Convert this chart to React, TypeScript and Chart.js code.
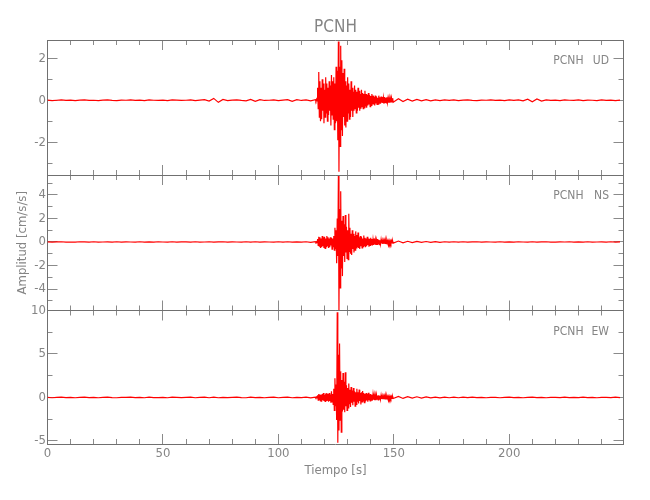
import { useEffect, useRef } from "react";
import { Chart, registerables } from "chart.js";

Chart.register(...registerables);

// ---------------- data ----------------
const STATION = "PCNH";
const X_TITLE = "Tiempo [s]";
const Y_TITLE = "Amplitud [cm/s/s]";
const X_MIN = 0;
const X_MAX = 249.5;

// sampling of the three stored pieces of each trace (seconds)
const PRE_START = 0;
const PRE_STEP = 2;
const EVENT_START = 116;
const EVENT_STEP = 0.25;
const CODA_START = 152;
const CODA_STEP = 2;

const udPre = [
  0.01, -0.02, 0.0, 0.02, -0.01, 0.01, -0.02, 0.01, 0.02, -0.01,
  0.0, -0.02, 0.01, 0.02, -0.01, -0.02, 0.01, 0.0, 0.02, -0.01,
  0.01, -0.02, 0.02, 0.0, -0.01, 0.01, -0.02, 0.02, 0.01, -0.01,
  0.0, 0.02, -0.02, 0.01, 0.03, -0.04, 0.09, -0.1, 0.04, -0.02,
  0.01, 0.02, -0.01, -0.03, 0.04, -0.05, 0.03, -0.01, 0.0, 0.02,
  -0.02, 0.01, 0.03, -0.05, 0.03, -0.01, 0.02, -0.03,
];
const udEvent = [
  0.03, -0.04, 0.05, -0.03, 0.6, -0.4, 1.35, -0.8,
  0.9, -1.0, 0.6, -0.9, 1.0, -0.5, 0.8, -1.1,
  0.5, -0.8, 1.1, -0.6, 0.8, -1.0, 0.6, -0.7,
  0.9, -0.5, 0.7, -1.2, 1.2, -0.7, 0.9, -0.9,
  1.1, -1.4, 0.8, -1.1, 1.6, -1.0, 1.4, -1.9,
  2.8, -3.4, 1.6, -2.2, 2.6, -1.4, 1.9, -1.7,
  1.3, -0.8, 1.5, -1.2, 0.9, -1.3, 0.7, -1.0,
  1.1, -0.6, 0.8, -0.9, 0.5, -0.8, 0.9, -0.5,
  0.6, -0.8, 0.4, -0.5, 0.7, -0.4, 0.5, -0.6,
  0.4, -0.5, 0.6, -0.35, 0.45, -0.5, 0.3, -0.4,
  0.5, -0.3, 0.35, -0.4, 0.3, -0.35, 0.45, -0.3,
  0.3, -0.35, 0.25, -0.25, 0.35, -0.2, 0.25, -0.3,
  0.2, -0.25, 0.3, -0.2, 0.22, -0.2, 0.15, -0.25,
  0.22, -0.15, 0.18, -0.2, 0.12, -0.18, 0.22, -0.14,
  0.14, -0.16, 0.18, -0.12, 0.15, -0.13, 0.12, -0.16,
  0.15, -0.1, 0.12, -0.13, 0.14, -0.11, 0.1, -0.12,
  0.11, -0.12, 0.09, -0.1, 0.11, -0.08, 0.1, -0.09,
];
const udCoda = [
  0.07, -0.06, 0.05, -0.04, 0.04, -0.03, 0.03, -0.03, 0.02, -0.02,
  0.02, -0.01, 0.02, -0.02, 0.01, 0.02, -0.01, -0.02, 0.01, 0.0,
  0.02, -0.01, 0.01, -0.02, 0.02, -0.01, 0.02, -0.03, 0.05, -0.07,
  0.06, -0.04, 0.02, -0.01, 0.01, -0.02, 0.02, 0.0, -0.01, 0.02,
  -0.02, 0.01, 0.0, -0.02, 0.02, -0.01, 0.01, -0.02, 0.01,
];

const nsPre = [
  0.01, -0.02, 0.01, 0.02, -0.01, 0.0, -0.02, 0.02, 0.01, -0.01,
  0.02, -0.02, 0.0, 0.01, -0.02, 0.02, -0.01, 0.01, 0.0, -0.02,
  0.02, -0.01, 0.01, -0.02, 0.02, 0.0, -0.01, 0.02, -0.02, 0.01,
  0.01, -0.02, 0.02, -0.01, 0.0, 0.02, -0.02, 0.01, 0.02, -0.02,
  0.01, 0.0, -0.02, 0.02, -0.01, 0.02, -0.02, 0.01, 0.0, -0.02,
  0.02, -0.01, 0.02, -0.02, 0.01, -0.02, 0.02, -0.03,
];
const nsEvent = [
  0.03, -0.04, 0.03, -0.05, 0.25, -0.3, 0.45, -0.35,
  0.4, -0.5, 0.3, -0.45, 0.5, -0.35, 0.4, -0.5,
  0.45, -0.55, 0.3, -0.4, 0.5, -0.3, 0.4, -0.5,
  0.3, -0.45, 0.4, -0.3, 0.35, -0.6, 0.3, -0.4,
  0.5, -0.7, 1.2, -0.6, 1.0, -1.8, 2.0, -1.2,
  5.6, -5.8, 2.8, -3.9, 4.3, -2.2, 1.8, -2.9,
  2.2, -1.2, 1.5, -1.7, 2.3, -0.9, 1.3, -1.4,
  1.0, -1.5, 2.4, -0.8, 1.2, -1.0, 0.7, -1.1,
  1.0, -0.6, 0.7, -0.9, 0.5, -0.7, 0.9, -0.5,
  0.6, -0.45, 0.8, -0.5, 0.4, -0.6, 0.5, -0.35,
  0.45, -0.5, 0.3, -0.4, 0.55, -0.3, 0.35, -0.45,
  0.3, -0.35, 0.45, -0.25, 0.3, -0.4, 0.25, -0.3,
  0.35, -0.2, 0.25, -0.3, 0.2, -0.25, 0.3, -0.2,
  0.2, -0.25, 0.15, -0.2, 0.25, -0.15, 0.18, -0.22,
  0.15, -0.18, 0.2, -0.12, 0.14, -0.17, 0.12, -0.15,
  0.14, -0.12, 0.1, -0.14, 0.13, -0.1, 0.12, -0.11,
  0.1, -0.12, 0.09, -0.1, 0.11, -0.08, 0.09, -0.1,
];
const nsCoda = [
  0.08, -0.07, 0.06, -0.05, 0.05, -0.04, 0.04, -0.03, 0.03, -0.03,
  0.02, -0.02, 0.02, -0.01, 0.02, -0.02, 0.01, 0.02, -0.02, 0.01,
  0.0, -0.02, 0.02, -0.01, 0.01, -0.02, 0.02, 0.0, -0.01, 0.02,
  -0.02, 0.01, 0.02, -0.01, -0.02, 0.01, 0.0, 0.02, -0.02, 0.01,
  -0.01, 0.02, -0.02, 0.0, 0.01, -0.02, 0.02, -0.01, 0.01,
];

const ewPre = [
  0.02, -0.03, 0.01, 0.03, -0.02, 0.0, -0.03, 0.02, 0.03, -0.02,
  0.01, -0.03, 0.02, 0.03, -0.01, -0.03, 0.02, 0.0, 0.03, -0.02,
  0.02, -0.03, 0.03, -0.01, -0.02, 0.02, -0.03, 0.03, 0.01, -0.02,
  0.0, 0.03, -0.03, 0.02, 0.03, -0.03, 0.04, -0.03, 0.02, -0.02,
  0.01, 0.03, -0.02, -0.03, 0.03, -0.02, 0.02, -0.03, 0.0, 0.03,
  -0.03, 0.02, 0.03, -0.03, 0.02, -0.01, 0.03, -0.04,
];
const ewEvent = [
  0.05, -0.04, 0.06, -0.05, 0.25, -0.3, 0.4, -0.25,
  0.35, -0.45, 0.3, -0.5, 0.4, -0.3, 0.5, -0.4,
  0.3, -0.45, 0.45, -0.35, 0.5, -0.3, 0.4, -0.5,
  0.5, -0.4, 0.35, -0.6, 0.7, -0.5, 0.4, -0.8,
  1.0, -1.5, 2.2, -1.0, 1.5, -2.6, 9.8, -5.2,
  4.9, -3.8, 6.2, -2.6, 3.0, -4.0, 2.0, -1.6,
  2.8, -1.4, 1.8, -1.7, 2.9, -1.0, 1.4, -1.5,
  1.1, -1.2, 1.6, -0.7, 0.9, -1.1, 1.2, -0.6,
  0.8, -0.9, 1.1, -0.5, 0.7, -1.0, 0.6, -0.8,
  1.0, -0.5, 0.6, -0.7, 0.9, -0.4, 0.5, -0.8,
  0.6, -0.5, 0.75, -0.4, 0.5, -0.6, 0.4, -0.45,
  0.5, -0.35, 0.4, -0.5, 0.55, -0.3, 0.35, -0.4,
  0.4, -0.3, 0.3, -0.35, 0.35, -0.25, 0.3, -0.3,
  0.25, -0.3, 0.3, -0.2, 0.22, -0.28, 0.25, -0.2,
  0.2, -0.22, 0.25, -0.16, 0.18, -0.2, 0.15, -0.18,
  0.18, -0.15, 0.14, -0.17, 0.16, -0.12, 0.15, -0.14,
  0.13, -0.14, 0.12, -0.11, 0.13, -0.1, 0.11, -0.12,
];
const ewCoda = [
  0.13, -0.11, 0.1, -0.08, 0.08, -0.07, 0.06, -0.05, 0.05, -0.04,
  0.04, -0.03, 0.03, -0.03, 0.03, -0.02, 0.03, -0.02, 0.02, -0.03,
  0.02, 0.0, -0.03, 0.02, 0.03, -0.02, 0.01, -0.03, 0.02, 0.03,
  -0.02, 0.01, -0.03, 0.02, 0.0, -0.02, 0.03, -0.02, 0.02, -0.01,
  0.03, -0.02, 0.01, -0.03, 0.02, 0.0, -0.02, 0.03, -0.02,
];

// ---------------- styles ----------------
const FONT = "'DejaVu Sans Condensed', 'Liberation Sans', sans-serif";
const TEXT = "#858585";
const FRAME = "#707070";
const TICK = "#8a8a8a";
const TRACE = "#ff0000";

const LEFT_W = 47.5;
const RIGHT_W = 26.5;

type Panel = {
  comp: string;
  pre: number[];
  ev: number[];
  coda: number[];
  min: number;
  max: number;
  major: number;
  minor: number;
  padTop: number;
  topH: number;
  padBottom: number;
  bottomH: number;
  showTitle: boolean;
  showYTitle: boolean;
  showXLabels: boolean;
};

const PANELS: Panel[] = [
  { comp: "UD", pre: udPre, ev: udEvent, coda: udCoda, min: -3.56, max: 2.87, major: 2, minor: 1,
    padTop: 0, topH: 40, padBottom: 315, bottomH: 10, showTitle: true, showYTitle: false, showXLabels: false },
  { comp: "NS", pre: nsPre, ev: nsEvent, coda: nsCoda, min: -5.82, max: 5.69, major: 2, minor: 1,
    padTop: 165, topH: 10, padBottom: 179.5, bottomH: 10, showTitle: false, showYTitle: true, showXLabels: false },
  { comp: "EW", pre: ewPre, ev: ewEvent, coda: ewCoda, min: -5.35, max: 10, major: 5, minor: 2.5,
    padTop: 300.5, topH: 10, padBottom: 0, bottomH: 56, showTitle: false, showYTitle: false, showXLabels: true },
];

function toPoints(pre: number[], ev: number[], coda: number[]) {
  return [
    ...pre.map((y, i) => ({ x: PRE_START + i * PRE_STEP, y })),
    ...ev.map((y, i) => ({ x: EVENT_START + i * EVENT_STEP, y })),
    ...coda.map((y, i) => ({ x: CODA_START + i * CODA_STEP, y })),
  ];
}

// tick positions: multiples of the step inside [min, max]
function tickBuilder(min: number, max: number, step: number) {
  return (s: any) => {
    const out: { value: number }[] = [];
    const first = Math.ceil(min / step - 1e-9);
    const last = Math.floor(max / step + 1e-9);
    for (let k = first; k <= last; k++) out.push({ value: Math.round(k * step * 1000) / 1000 });
    s.ticks = out;
  };
}

const panelLabel = {
  id: "panelLabel",
  afterDraw(chart: any, _args: any, opts: any) {
    const { ctx, chartArea } = chart;
    ctx.save();
    ctx.font = `12px ${FONT}`;
    ctx.fillStyle = TEXT;
    ctx.textAlign = "right";
    ctx.textBaseline = "middle";
    const y = chartArea.top + 21;
    ctx.fillText(STATION, chartArea.right - 40, y);
    ctx.fillText(opts.comp, chartArea.right - 14.5, y);
    ctx.restore();
  },
};

function axisX(position: "top" | "bottom", major: boolean, p: Panel) {
  const size = major ? (position === "top" ? p.topH : p.bottomH) : 0;
  const showLabels = major && position === "bottom" && p.showXLabels;
  let title: any = { display: false };
  if (major && position === "top" && p.showTitle) {
    title = { display: true, text: STATION, color: TEXT, font: { family: FONT, size: 17 }, padding: { top: 17, bottom: 0 } };
  }
  if (major && position === "bottom" && p.showXLabels) {
    title = { display: true, text: X_TITLE, color: TEXT, font: { family: FONT, size: 13 }, padding: { top: 0, bottom: 22 } };
  }
  return {
    type: "linear",
    position,
    weight: major ? 1 : 0,
    min: X_MIN,
    max: X_MAX,
    afterBuildTicks: tickBuilder(X_MIN, X_MAX, major ? 50 : 10),
    afterFit: (s: any) => { s.height = size; },
    border: { display: major, color: FRAME, width: 1 },
    grid: { display: true, drawOnChartArea: false, drawTicks: true, tickLength: major ? -10 : -5, tickColor: TICK, tickWidth: 1 },
    ticks: {
      display: showLabels,
      autoSkip: false,
      maxRotation: 0,
      padding: 12,
      color: TEXT,
      font: { family: FONT, size: 13 },
    },
    title,
  };
}

function axisY(position: "left" | "right", major: boolean, p: Panel) {
  const size = major ? (position === "left" ? LEFT_W : RIGHT_W) : 0;
  const showLabels = major && position === "left";
  const title =
    major && position === "left" && p.showYTitle
      ? { display: true, text: Y_TITLE, color: TEXT, font: { family: FONT, size: 13 }, padding: { top: 15, bottom: 0 } }
      : { display: false };
  return {
    type: "linear",
    position,
    weight: major ? 1 : 0,
    min: p.min,
    max: p.max,
    afterBuildTicks: tickBuilder(p.min, p.max, major ? p.major : p.minor),
    afterFit: (s: any) => { s.width = size; },
    border: { display: major, color: FRAME, width: 1 },
    grid: { display: true, drawOnChartArea: false, drawTicks: true, tickLength: major ? -10 : -5, tickColor: TICK, tickWidth: 1 },
    ticks: {
      display: showLabels,
      autoSkip: false,
      padding: 11.5,
      color: TEXT,
      font: { family: FONT, size: 13 },
    },
    title,
  };
}

function PanelChart({ p }: { p: Panel }) {
  const ref = useRef<HTMLCanvasElement | null>(null);
  useEffect(() => {
    if (!ref.current) return;
    const chart = new Chart(ref.current, {
      type: "line",
      data: {
        datasets: [
          {
            data: toPoints(p.pre, p.ev, p.coda),
            borderColor: TRACE,
            borderWidth: 1.2,
            pointRadius: 0,
            tension: 0,
            fill: false,
            xAxisID: "x",
            yAxisID: "y",
          },
        ],
      },
      options: {
        responsive: false,
        animation: false,
        events: [],
        layout: { padding: { top: p.padTop, bottom: p.padBottom, left: 0, right: 0 } },
        plugins: {
          legend: { display: false },
          tooltip: { enabled: false },
          title: { display: false },
          panelLabel: { comp: p.comp },
        } as any,
        scales: {
          x: axisX("bottom", true, p),
          xm: axisX("bottom", false, p),
          xt: axisX("top", true, p),
          xtm: axisX("top", false, p),
          y: axisY("left", true, p),
          ym: axisY("left", false, p),
          yr: axisY("right", true, p),
          yrm: axisY("right", false, p),
        } as any,
      },
      plugins: [panelLabel],
    } as any);
    return () => chart.destroy();
  }, [p]);
  return (
    <canvas
      ref={ref}
      width={650}
      height={500}
      style={{ position: "absolute", left: 0, top: 0, width: 650, height: 500 }}
    />
  );
}

export default function App() {
  return (
    <div style={{ position: "absolute", left: 0, top: 0, width: 650, height: 500, background: "#fff" }}>
      {PANELS.map((p) => (
        <PanelChart key={p.comp} p={p} />
      ))}
    </div>
  );
}
